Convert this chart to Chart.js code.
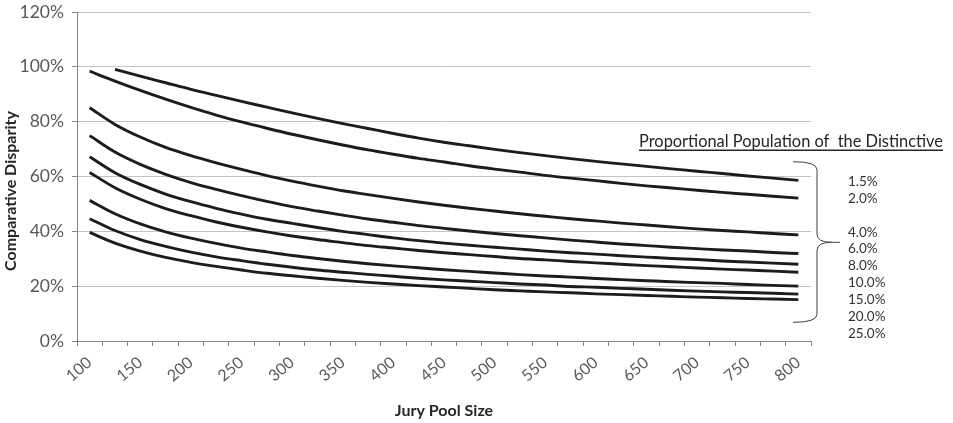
<!DOCTYPE html>
<html><head><meta charset="utf-8">
<script src="https://cdn.jsdelivr.net/npm/chart.js@4.4.0/dist/chart.umd.min.js"></script>
<style>html,body{margin:0;padding:0;background:#fff;} #wrap{position:relative;width:953px;height:423px;}</style>
</head><body><div id="wrap"><canvas id="c" width="953" height="423"></canvas></div>
<script>
const jurySizes = [100,125,150,175,200,225,250,275,300,325,350,375,400,425,450,475,500,525,550,575,600,625,650,675,700,725,750,775,800];
const xTickLabels = ['100','150','200','250','300','350','400','450','500','550','600','650','700','750','800'];
const yTickValues = [0,20,40,60,80,100,120];
const seriesNames = ['1.5%','2.0%','4.0%','6.0%','8.0%','10.0%','15.0%','20.0%','25.0%'];
const legendTitle = 'Proportional Population of  the Distinctive';
const xTitle = 'Jury Pool Size';
const yTitle = 'Comparative Disparity';

const cd1_5 = [null,99.1,96.6,94.2,91.8,89.6,87.4,85.3,83.2,81.2,79.3,77.5,75.7,74.0,72.5,71.2,69.9,68.7,67.6,66.5,65.5,64.6,63.7,62.8,61.9,61.1,60.2,59.4,58.6];
const cd2_0 = [98.4,94.8,91.4,88.2,85.2,82.4,79.9,77.6,75.4,73.4,71.5,69.7,68.1,66.6,65.3,63.9,62.7,61.6,60.4,59.4,58.5,57.5,56.6,55.8,55.0,54.2,53.5,52.8,52.1];
const cd4_0 = [85.1,79.0,74.4,70.6,67.6,65.0,62.6,60.3,58.3,56.5,54.8,53.4,52.0,50.7,49.5,48.4,47.4,46.4,45.5,44.6,43.8,43.0,42.3,41.6,40.9,40.3,39.8,39.2,38.7];
const cd6_0 = [74.9,68.9,64.4,60.8,57.8,55.3,53.0,50.9,49.0,47.4,45.9,44.5,43.3,42.1,41.1,40.1,39.2,38.4,37.6,36.8,36.1,35.4,34.8,34.2,33.7,33.2,32.8,32.3,31.9];
const cd8_0 = [67.2,61.4,57.1,53.6,50.8,48.4,46.3,44.4,42.9,41.4,40.0,38.8,37.6,36.6,35.7,34.9,34.2,33.5,32.8,32.2,31.7,31.1,30.6,30.1,29.7,29.2,28.8,28.4,28.0];
const cd10_0 = [61.5,55.9,51.7,48.3,45.7,43.4,41.5,39.8,38.3,37.0,35.9,34.8,33.9,33.0,32.2,31.5,30.8,30.1,29.6,29.0,28.5,28.0,27.5,27.1,26.6,26.2,25.9,25.5,25.1];
const cd15_0 = [51.3,46.4,42.7,39.8,37.5,35.6,33.9,32.5,31.2,30.1,29.1,28.2,27.4,26.7,26.0,25.4,24.8,24.2,23.7,23.3,22.8,22.4,22.0,21.6,21.3,21.0,20.6,20.3,20.0];
const cd20_0 = [44.6,40.3,37.0,34.5,32.4,30.7,29.3,28.0,26.9,25.9,25.1,24.3,23.6,22.9,22.3,21.8,21.3,20.8,20.4,19.9,19.6,19.2,18.9,18.5,18.2,17.9,17.7,17.4,17.1];
const cd25_0 = [39.6,35.7,32.8,30.5,28.7,27.2,25.9,24.7,23.8,22.9,22.1,21.4,20.8,20.2,19.7,19.2,18.7,18.3,17.9,17.6,17.2,16.9,16.6,16.3,16.0,15.8,15.5,15.3,15.1];

const seriesData = [cd1_5,cd2_0,cd4_0,cd6_0,cd8_0,cd10_0,cd15_0,cd20_0,cd25_0];

const FONT = 'Lato, "Open Sans", sans-serif';

const sideLegend = {
  id: 'sideLegend',
  afterDraw(chart) {
    const ctx = chart.ctx, a = chart.chartArea;
    ctx.save();
    // y-axis title
    ctx.save();
    ctx.translate(11, 191);
    ctx.rotate(-Math.PI / 2);
    ctx.font = 'bold 16px ' + FONT;
    ctx.fillStyle = '#262626';
    ctx.textAlign = 'center';
    ctx.textBaseline = 'middle';
    ctx.fillText(yTitle, 0, 0);
    ctx.restore();
    // legend title
    ctx.font = '16.4px ' + FONT;
    ctx.fillStyle = '#262626';
    ctx.textAlign = 'right';
    ctx.textBaseline = 'alphabetic';
    const tx = a.right + 132, ty = 147;
    ctx.fillText(legendTitle, tx, ty);
    const w = ctx.measureText(legendTitle).width;
    ctx.fillRect(tx - w, ty + 2.5, w, 1.5);
    ctx.font = '13.5px ' + FONT;
    ctx.fillStyle = '#333333';
    ctx.textAlign = 'left';
    ctx.textBaseline = 'middle';
    let row = 0;
    seriesNames.forEach((n, i) => {
      if (i === 2) row++;
      ctx.fillText(n, a.right + 37, 181.7 + row * 16.85);
      row++;
    });
    const bx = a.right - 18, vx = a.right + 6, tip = a.right + 29;
    const top = 161.7, mid = 242.3, bot = 322.3;
    ctx.strokeStyle = '#404040';
    ctx.lineWidth = 1;
    ctx.beginPath();
    ctx.moveTo(bx, top);
    ctx.quadraticCurveTo(vx, top, vx, top + 8);
    ctx.lineTo(vx, mid - 8);
    ctx.quadraticCurveTo(vx, mid, tip - 8, mid);
    ctx.lineTo(tip, mid);
    ctx.moveTo(tip - 8, mid);
    ctx.quadraticCurveTo(vx, mid, vx, mid + 8);
    ctx.lineTo(vx, bot - 8);
    ctx.quadraticCurveTo(vx, bot, bx, bot);
    ctx.stroke();
    ctx.restore();
  }
};

new Chart(document.getElementById('c'), {
  type: 'line',
  data: {
    labels: jurySizes.map(String),
    datasets: seriesNames.map((n, i) => ({
      label: n,
      data: seriesData[i],
      borderColor: '#1c1c1c',
      borderWidth: 2.9,
      pointRadius: 0,
      cubicInterpolationMode: 'monotone',
      fill: false
    }))
  },
  options: {
    responsive: false,
    animation: false,
    devicePixelRatio: 1,
    layout: { padding: { left: 0, right: 142, top: 12, bottom: 0 } },
    plugins: { legend: { display: false }, tooltip: { enabled: false } },
    scales: {
      x: {
        type: 'category',
        offset: true,
        grid: { offset: true, drawOnChartArea: false, drawTicks: true, tickLength: 5, color: '#868686', tickColor: '#868686' },
        border: { color: '#868686' },
        ticks: {
          autoSkip: false, maxRotation: 40, minRotation: 40, padding: 7,
          font: { family: FONT, size: 16 }, color: '#595959',
          callback(v, i) { const l = String(jurySizes[i]); return xTickLabels.includes(l) ? l : ''; }
        },
        title: { display: true, text: xTitle, font: { family: FONT, size: 16, weight: 'bold' }, color: '#262626', padding: { top: 0, bottom: 3 } },
        afterFit(s) { s.height = 82; s.paddingLeft = 0; s.paddingRight = 0; }
      },
      y: {
        min: 0, max: 120,
        afterBuildTicks(s) { s.ticks = yTickValues.map(v => ({ value: v })); },
        ticks: { padding: 8, font: { family: FONT, size: 17.5 }, color: '#595959', callback: v => v + '%' },
        grid: { color: '#c4c4c4', tickColor: '#868686', tickLength: 5, drawTicks: true },
        border: { color: '#868686' },
        title: { display: false },
        afterFit(s) { s.width = 77; s.paddingTop = 0; s.paddingBottom = 0; }
      }
    }
  },
  plugins: [sideLegend]
});
</script>
</body></html>
